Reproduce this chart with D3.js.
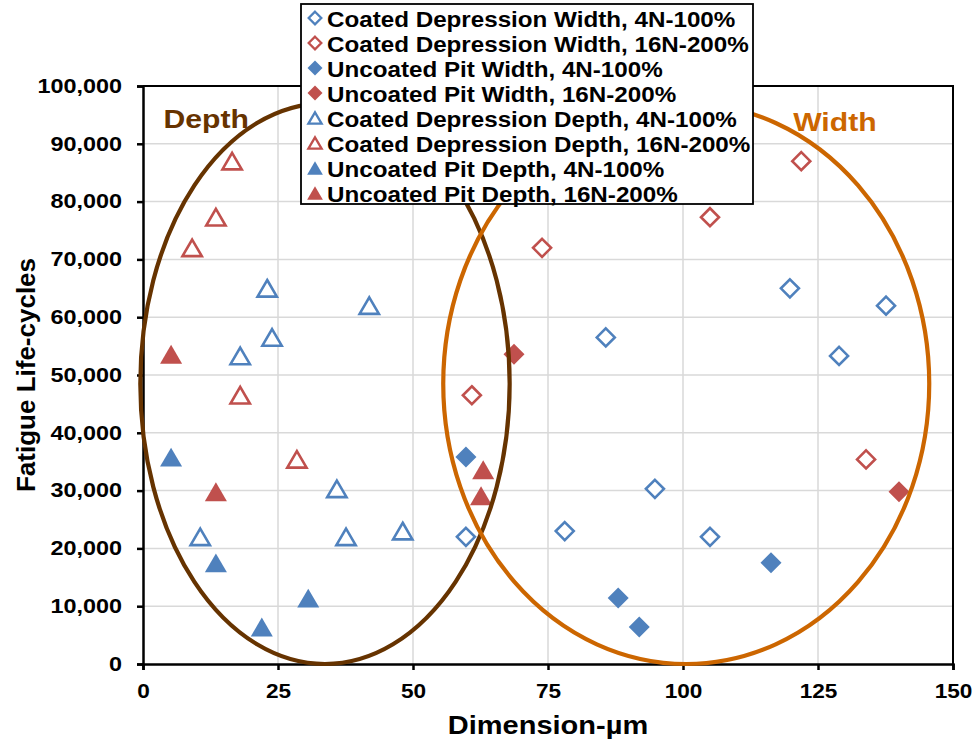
<!DOCTYPE html>
<html>
<head>
<meta charset="utf-8">
<script src="https://cdn.jsdelivr.net/npm/d3@7"></script>
<style>
  body { margin: 0; background: #fff; }
  svg { display: block; font-family: "Liberation Sans", Arial, sans-serif; font-weight: bold; }
</style>
</head>
<body>
<div id="chart"></div>
<script>
// values: [dimension µm, fatigue life cycles]
const coatedDepWidth4N = [[59.8, 22000], [78.1, 23000], [85.7, 56500], [94.8, 30300], [105.0, 22000], [119.8, 65000], [128.9, 53300], [137.6, 62000]];
const coatedDepWidth16N = [[60.9, 46500], [73.9, 72000], [105.0, 77300], [121.9, 87000], [133.9, 35400]];
const uncoatedPitWidth4N = [[59.8, 35800], [88.0, 11400], [91.9, 6400], [116.3, 17500]];
const uncoatedPitWidth16N = [[68.7, 53600], [140.0, 29800]];
const coatedDepDepth4N = [[23.0, 65000], [41.9, 62000], [18.0, 53300], [23.9, 56500], [10.6, 22000], [35.9, 30300], [37.6, 22000], [48.1, 23000]];
const coatedDepDepth16N = [[16.5, 87000], [13.5, 77300], [9.1, 72000], [18.0, 46500], [28.5, 35400]];
const uncoatedPitDepth4N = [[5.2, 35800], [13.5, 17500], [22.0, 6400], [30.6, 11400]];
const uncoatedPitDepth16N = [[5.2, 53600], [13.5, 29800], [63.0, 33600], [62.6, 29100]];

const seriesNames = [
  "Coated Depression Width, 4N-100%",
  "Coated Depression Width, 16N-200%",
  "Uncoated Pit Width, 4N-100%",
  "Uncoated Pit Width, 16N-200%",
  "Coated Depression Depth, 4N-100%",
  "Coated Depression Depth, 16N-200%",
  "Uncoated Pit Depth, 4N-100%",
  "Uncoated Pit Depth, 16N-200%"
];
const seriesData = [coatedDepWidth4N, coatedDepWidth16N, uncoatedPitWidth4N, uncoatedPitWidth16N,
                    coatedDepDepth4N, coatedDepDepth16N, uncoatedPitDepth4N, uncoatedPitDepth16N];

const xTicks = [0, 25, 50, 75, 100, 125, 150];
const yTicks = [0, 10000, 20000, 30000, 40000, 50000, 60000, 70000, 80000, 90000, 100000];

// the two hand drawn ellipses, in data units
const depthEllipse = {cx: 33.7, cy: 48500, rx: 34.2, ry: 48500, label: "Depth", lx: 3.8, ly: 92700};
const widthEllipse = {cx: 100.6, cy: 48500, rx: 45.0, ry: 48500, label: "Width", lx: 120.4, ly: 92200};

const blue = "#4f81bd", red = "#c0504d";
const styles = [
  {shape: "diamond", color: blue, filled: false},
  {shape: "diamond", color: red, filled: false},
  {shape: "diamond", color: blue, filled: true},
  {shape: "diamond", color: red, filled: true},
  {shape: "triangle", color: blue, filled: false},
  {shape: "triangle", color: red, filled: false},
  {shape: "triangle", color: blue, filled: true},
  {shape: "triangle", color: red, filled: true}
];

const margin = {top: 86, right: 23, bottom: 80, left: 143};
const W = 976, H = 744;
const width = W - margin.left - margin.right;
const height = H - margin.top - margin.bottom;
const stretch = 1.16; // text in the picture is a little wide

function markerPath(shape, s) {
  if (shape === "diamond") return `M0,${-s}L${s},0L0,${s}L${-s},0Z`;
  const w = s * 2.1, h = s * 1.8;
  return `M0,${-h / 2}L${w / 2},${h / 2}L${-w / 2},${h / 2}Z`;
}

const svg = d3.select("#chart").append("svg")
  .attr("width", W).attr("height", H);
const g = svg.append("g").attr("transform", `translate(${margin.left},${margin.top})`);

const x = d3.scaleLinear().domain([0, 150]).range([0, width]);
const y = d3.scaleLinear().domain([0, 100000]).range([height, 0]);

// grid
g.append("g").selectAll("line").data(yTicks.slice(1)).join("line")
  .attr("x1", 0).attr("x2", width)
  .attr("y1", d => y(d)).attr("y2", d => y(d))
  .attr("stroke", "#d9d9d9").attr("stroke-width", 1.5);
g.append("g").selectAll("line").data(xTicks.slice(1)).join("line")
  .attr("y1", 0).attr("y2", height)
  .attr("x1", d => x(d)).attr("x2", d => x(d))
  .attr("stroke", "#d9d9d9").attr("stroke-width", 1.5);

// border top / right
g.append("path")
  .attr("d", `M0,${y(100000)}H${x(150)}V${y(0)}`)
  .attr("fill", "none").attr("stroke", "#000").attr("stroke-width", 2);

// axes
const fmt = d3.format(",");
const yAxis = g.append("g")
  .call(d3.axisLeft(y).tickValues(yTicks).tickFormat(fmt).tickSize(6).tickPadding(16));
const xAxis = g.append("g").attr("transform", `translate(0,${height})`)
  .call(d3.axisBottom(x).tickValues(xTicks).tickSize(6).tickPadding(12));

[yAxis, xAxis].forEach(ax => {
  ax.select(".domain").attr("stroke-width", 2.5);
  ax.selectAll(".tick line").attr("stroke-width", 2.5);
  ax.selectAll("text").attr("font-size", 19.5).attr("font-family", null).attr("fill", "#000");
});
yAxis.selectAll("text").each(function() {
  const t = d3.select(this);
  t.attr("transform", `translate(${-21},0) scale(1.2,1)`).attr("x", null);
});
xAxis.selectAll("text").attr("transform", `scale(${stretch},1)`).attr("y", 20);
yAxis.attr("font-size", 19.5);
xAxis.attr("font-size", 19.5);

// axis titles
svg.append("text")
  .attr("transform", `translate(${margin.left + width / 2},${H - 10}) scale(${stretch},1)`)
  .attr("text-anchor", "middle").attr("font-size", 25)
  .text("Dimension-µm");
svg.append("text")
  .attr("transform", `translate(${35},${margin.top + height / 2}) rotate(-90)`)
  .attr("text-anchor", "middle").attr("font-size", 26)
  .text("Fatigue Life-cycles");

// points
seriesData.forEach((pts, i) => {
  const st = styles[i];
  g.append("g").selectAll("path").data(pts).join("path")
    .attr("transform", d => `translate(${x(d[0])},${y(d[1])})`)
    .attr("d", st.filled ? markerPath(st.shape, 10.5) : markerPath(st.shape, st.shape === "diamond" ? 9 : 9.2))
    .attr("fill", st.filled ? st.color : "#fff")
    .attr("stroke", st.filled ? "none" : st.color)
    .attr("stroke-width", 2.6)
    .attr("stroke-linejoin", "miter");
});

// legend
const legend = svg.append("g").attr("transform", "translate(301,4)");
legend.append("rect")
  .attr("width", 452).attr("height", 200)
  .attr("fill", "#fff").attr("stroke", "#000").attr("stroke-width", 1.8);
const rows = legend.selectAll("g.row").data(seriesNames).join("g")
  .attr("class", "row")
  .attr("transform", (d, i) => `translate(14,${14 + i * 25})`);
rows.append("path")
  .attr("d", (d, i) => markerPath(styles[i].shape, styles[i].filled ? 7.5 : 6.3))
  .attr("fill", (d, i) => styles[i].filled ? styles[i].color : "#fff")
  .attr("stroke", (d, i) => styles[i].filled ? "none" : styles[i].color)
  .attr("stroke-width", 2.3);
rows.append("text")
  .attr("transform", `translate(12,8.5) scale(1.1,1)`)
  .attr("font-size", 22)
  .text(d => d);

// ellipses drawn over everything
[depthEllipse, widthEllipse].forEach((e, i) => {
  const c = i === 0 ? "#663300" : "#cc6600";
  g.append("ellipse")
    .attr("cx", x(e.cx)).attr("cy", y(e.cy))
    .attr("rx", x(e.rx) - x(0)).attr("ry", y(0) - y(e.ry))
    .attr("fill", "none").attr("stroke", c).attr("stroke-width", 4.2);
  g.append("text")
    .attr("transform", `translate(${x(e.lx)},${y(e.ly)}) scale(${stretch},1)`)
    .attr("font-size", 26).attr("fill", c)
    .text(e.label);
});
</script>
</body>
</html>
